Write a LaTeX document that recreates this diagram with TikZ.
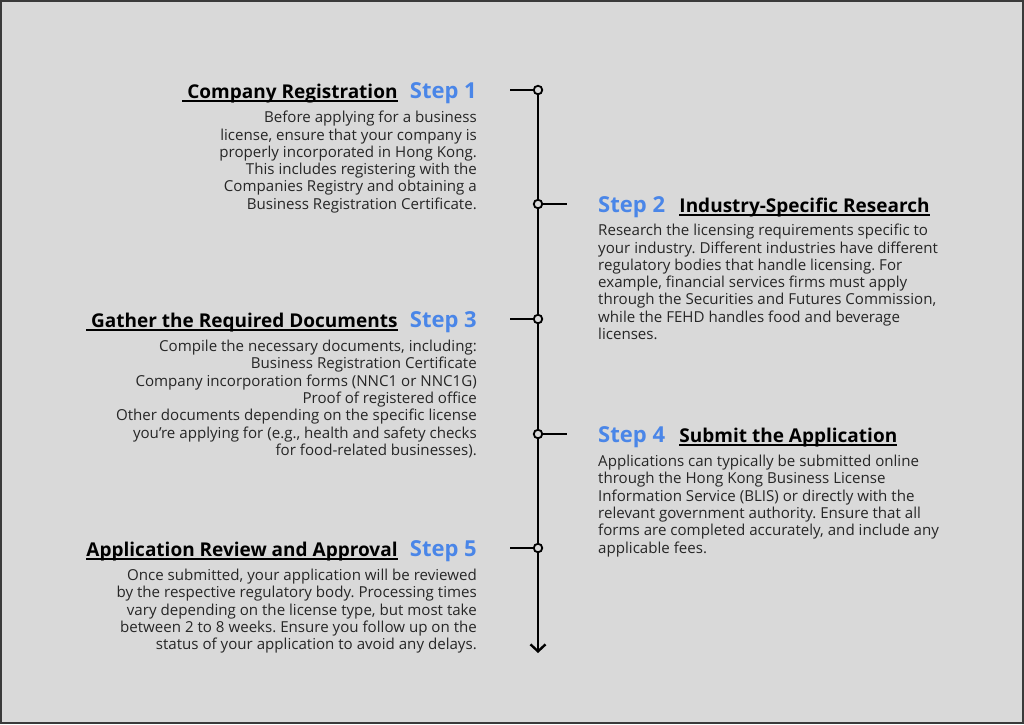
\documentclass[tikz,border=0pt]{standalone}
\usepackage{fontspec}
\setmainfont{Open Sans}
\usetikzlibrary{arrows.meta,positioning}
\frenchspacing
\definecolor{bggray}{HTML}{D9D9D9}
\definecolor{framegray}{HTML}{3A3A3A}
\definecolor{stepblue}{HTML}{4A86E8}
\definecolor{bodygray}{HTML}{262626}
\newcommand\undl[1]{\setbox0\hbox{#1}\rlap{\rule[-3.5pt]{\wd0}{1.4pt}}\box0}
\tikzset{
  steplbl/.style={inner sep=0, text=stepblue, font=\fontsize{22}{26}\selectfont\bfseries},
  ttl/.style={inner sep=0, text=black, font=\fontsize{19}{23}\selectfont\bfseries},
  bodytxt/.style={inner sep=0, text=bodygray, font=\fontsize{15.1}{17.3}\selectfont},
  dot/.style={circle, draw, line width=1.8pt, fill=bggray, minimum size=8.5pt, inner sep=0},
  axis/.style={line width=2.4pt, black},
}
\begin{document}
\begin{tikzpicture}[x=1pt,y=-1pt]
\useasboundingbox (0,0) rectangle (1024,724);
\draw[fill=bggray, draw=framegray, line width=2pt] (1,1) rectangle (1023,723);

\node[dot] (d1) at (538,90) {};
\node[dot] (d2) at (538,204) {};
\node[dot] (d3) at (538,319) {};
\node[dot] (d4) at (538,434) {};
\node[dot] (d5) at (538,548) {};
\coordinate (end) at (538,653);
\coordinate (k1) at (510,90);
\coordinate (k2) at (567,204);
\coordinate (k3) at (510,319);
\coordinate (k4) at (567,434);
\coordinate (k5) at (510,548);

\draw[axis] (d1) -- (d2) -- (d3) -- (d4) -- (d5);
\draw[axis, -{Straight Barb[length=7pt,width=15pt]}] (d5) -- (end);
\draw[axis] (k1) -- (d1);
\draw[axis] (d2) -- (k2);
\draw[axis] (k3) -- (d3);
\draw[axis] (d4) -- (k4);
\draw[axis] (k5) -- (d5);

\node[steplbl, anchor=base east] (s1) at (477,98) {Step 1};
\node[ttl, anchor=base east] (n1) at ([xshift=-12pt]s1.base west) {\undl{\ Company Registration}};
\node[bodytxt, align=right, anchor=north east] (b1) at (477,111) {Before applying for a business\\license, ensure that your company is\\properly incorporated in Hong Kong.\\This includes registering with the\\Companies Registry and obtaining a\\Business Registration Certificate.};

\node[steplbl, anchor=base west] (s2) at (598,212) {Step 2};
\node[ttl, anchor=base west] (n2) at ([xshift=14pt]s2.base east) {\undl{Industry-Specific Research}};
\node[bodytxt, align=left, anchor=north west] (b2) at (598,224) {Research the licensing requirements specific to\\your industry. Different industries have different\\regulatory bodies that handle licensing. For\\example, financial services firms must apply\\through the Securities and Futures Commission,\\while the FEHD handles food and beverage\\licenses.};

\node[steplbl, anchor=base east] (s3) at (477,327) {Step 3};
\node[ttl, anchor=base east] (n3) at ([xshift=-12pt]s3.base west) {\undl{\ Gather the Required Documents}};
\node[bodytxt, align=right, anchor=north east] (b3) at (477,340) {Compile the necessary documents, including:\\Business Registration Certificate\\Company incorporation forms (NNC1 or NNC1G)\\Proof of registered office\\Other documents depending on the specific license\\you’re applying for (e.g., health and safety checks\\for food-related businesses).};

\node[steplbl, anchor=base west] (s4) at (598,442) {Step 4};
\node[ttl, anchor=base west] (n4) at ([xshift=14pt]s4.base east) {\undl{Submit the Application}};
\node[bodytxt, align=left, anchor=north west] (b4) at (598,455) {Applications can typically be submitted online\\through the Hong Kong Business License\\Information Service (BLIS) or directly with the\\relevant government authority. Ensure that all\\forms are completed accurately, and include any\\applicable fees.};

\node[steplbl, anchor=base east] (s5) at (477,556) {Step 5};
\node[ttl, anchor=base east] (n5) at ([xshift=-12pt]s5.base west) {\undl{Application Review and Approval}};
\node[bodytxt, align=right, anchor=north east] (b5) at (477,569) {Once submitted, your application will be reviewed\\by the respective regulatory body. Processing times\\vary depending on the license type, but most take\\between 2 to 8 weeks. Ensure you follow up on the\\status of your application to avoid any delays.};
\end{tikzpicture}
\end{document}
